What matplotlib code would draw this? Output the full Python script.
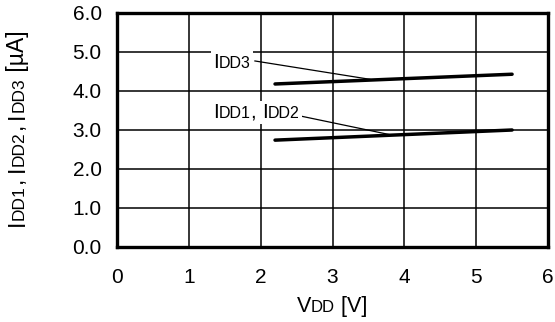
import matplotlib
matplotlib.use('Agg')
import matplotlib.pyplot as plt
from matplotlib.patches import Rectangle
from matplotlib.transforms import offset_copy, Bbox

plt.rcParams['font.family'] = ['Liberation Sans', 'DejaVu Sans']

# ── data ────────────────────────────────────────────────────────────────────
VDD       = [2.2, 5.5]
IDD3      = [4.18, 4.43]
IDD12     = [2.74, 3.00]

X_TICKS   = [0, 1, 2, 3, 4, 5, 6]
Y_TICKS   = [0.0, 1.0, 2.0, 3.0, 4.0, 5.0, 6.0]

BIG, SMALL = 15, 11.5


def rich_text(fig, ax, x, y, parts, coords='data', rotation=0, bg=None):
    """Draw text pieces of mixed size one after the other on a shared baseline."""
    renderer = fig.canvas.get_renderer()
    base = ax.transData if coords == 'data' else fig.transFigure
    offset = 0.0
    exts = []
    for s, size in parts:
        dx, dy = (0, offset) if rotation == 90 else (offset, 0)
        tr = offset_copy(base, fig=fig, x=dx, y=dy, units='dots')
        t = fig.text(x, y, s, fontsize=size, transform=tr, rotation=rotation,
                     ha='left', va='baseline', rotation_mode='anchor', zorder=5)
        ext = t.get_window_extent(renderer)
        exts.append(ext)
        offset += ext.height if rotation == 90 else ext.width
    if bg:
        bb = Bbox.union(exts).padded(2)
        W, H = fig.bbox.width, fig.bbox.height
        fig.patches.append(Rectangle((bb.x0 / W, bb.y0 / H), bb.width / W,
                                     bb.height / H, transform=fig.transFigure,
                                     facecolor=bg, edgecolor='none', zorder=4.5))
    return offset


fig = plt.figure(figsize=(5.55, 3.22), dpi=100)
ax = fig.add_axes([117 / 555, 1 - 247 / 322, 431 / 555, 234 / 322])

ax.plot(VDD, IDD3, color='black', lw=2.5, solid_capstyle='round', zorder=4)
ax.plot(VDD, IDD12, color='black', lw=2.5, solid_capstyle='round', zorder=4)

ax.set_xlim(0, 6)
ax.set_ylim(0, 6)
ax.set_xticks(X_TICKS)
ax.set_yticks(Y_TICKS)
ax.set_xticklabels([str(v) for v in X_TICKS])
ax.set_yticklabels([f'{v:.1f}' for v in Y_TICKS])
ax.tick_params(length=0, labelsize=BIG, colors='black')
ax.tick_params(axis='x', pad=15)
ax.tick_params(axis='y', pad=11)
ax.grid(True, color='black', lw=1.1)
ax.set_axisbelow(True)
for sp in ax.spines.values():
    sp.set_linewidth(2.4)
    sp.set_zorder(6)

# leader lines
ax.plot([1.92, 3.52], [4.77, 4.30], color='black', lw=0.9, zorder=4)
ax.plot([2.55, 3.80], [3.36, 2.88], color='black', lw=0.9, zorder=4)

fig.canvas.draw()

# annotation labels
rich_text(fig, ax, 1.34, 4.59, [('I', BIG), ('DD3', SMALL)], bg='white')
rich_text(fig, ax, 1.34, 3.31, [('I', BIG), ('DD1', SMALL), (', ', BIG),
                                ('I', BIG), ('DD2', SMALL)], bg='white')

# x label, centred under the axes
xparts = [('V', 15.5), ('DD', 12), (' [V]', 15.5)]
w = rich_text(fig, ax, -10, -10, xparts)  # measure
for t in fig.texts[-len(xparts):]:
    t.remove()
rich_text(fig, ax, (332 - w / 2) / 555, 1 - 312 / 322, xparts, coords='fig')

# y label, rotated, centred on the axes
yparts = [('I', 16.5), ('DD1', 12.5), (', ', 16.5), ('I', 16.5), ('DD2', 12.5),
          (', ', 16.5), ('I', 16.5), ('DD3', 12.5), (' [µA]', 16.5)]
h = rich_text(fig, ax, -10, -10, yparts, rotation=90)
for t in fig.texts[-len(yparts):]:
    t.remove()
rich_text(fig, ax, 24 / 555, 1 - (128 + h / 2) / 322, yparts, coords='fig',
          rotation=90)

fig.savefig('out.png', dpi=100)
